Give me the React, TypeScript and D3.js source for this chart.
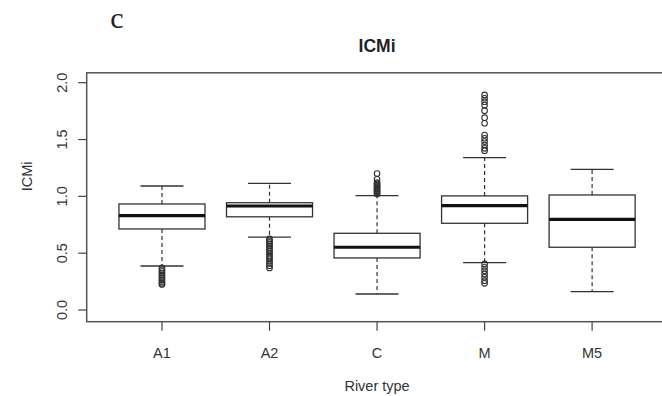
import React from "react";
import * as d3 from "d3";

const categories = ["A1", "A2", "C", "M", "M5"];
const lowerWhisker = [0.387, 0.642, 0.141, 0.416, 0.161];
const q1 = [0.713, 0.82, 0.458, 0.763, 0.552];
const median = [0.83, 0.915, 0.552, 0.918, 0.798];
const q3 = [0.933, 0.944, 0.675, 1.004, 1.012];
const upperWhisker = [1.091, 1.115, 1.006, 1.34, 1.238];
const outliersA1 = [0.37, 0.355, 0.34, 0.325, 0.31, 0.295, 0.28, 0.265, 0.25, 0.235, 0.225];
const outliersA2 = [0.625, 0.61, 0.595, 0.58, 0.565, 0.55, 0.535, 0.52, 0.5, 0.48, 0.465, 0.45, 0.43, 0.41, 0.39, 0.37];
const outliersC = [1.02, 1.03, 1.04, 1.05, 1.06, 1.07, 1.08, 1.09, 1.1, 1.11, 1.12, 1.15, 1.2];
const outliersM = [1.892, 1.863, 1.833, 1.804, 1.754, 1.692, 1.643, 1.54, 1.511, 1.482, 1.452, 1.423, 1.402,
  0.405, 0.376, 0.346, 0.317, 0.288, 0.258, 0.235];
const outliersM5: number[] = [];
const outliers = [outliersA1, outliersA2, outliersC, outliersM, outliersM5];
const yTicks = [0, 0.5, 1, 1.5, 2];

export default function App() {
  React.useEffect(() => {
    document.body.style.margin = "0";
  }, []);
  const W = 662, H = 396;
  const x = d3.scaleLinear().domain([0.3, 5.7]).range([86.7, 667.4]);
  const y = d3.scaleLinear().domain([0, 2]).range([310, 82.7]);
  const unit = x(1) - x(0);
  const boxW = 0.8 * unit;
  const capW = 0.4 * unit;
  const frameTop = y(2.087);
  const frameBottom = y(-0.103);
  const left = x(0.3);
  const right = x(5.7);
  const font = "'Liberation Sans', Arial, sans-serif";
  const stroke = "#333";
  return (
    <svg width={W} height={H} style={{ display: "block", position: "absolute", left: 0, top: 0 }}>
      <rect width={W} height={H} fill="#fff" />
      <text x={117} y={28} fontFamily="'Liberation Serif', 'Times New Roman', serif" fontSize={30} textAnchor="middle" fill="#222">c</text>
      <text x={(left + right) / 2} y={52} fontFamily={font} fontSize={17.5} fontWeight="bold" textAnchor="middle" fill="#222">ICMi</text>
      <rect x={left} y={frameTop} width={right - left} height={frameBottom - frameTop} fill="none" stroke="#555" strokeWidth={1.5} />
      {yTicks.map((t) => (
        <g key={t}>
          <line x1={left - 8.5} x2={left} y1={y(t)} y2={y(t)} stroke="#444" strokeWidth={1.2} />
          <text transform={`translate(${67},${y(t)}) rotate(-90)`} fontFamily={font} fontSize={14.5} textAnchor="middle" fill="#333">
            {t.toFixed(1)}
          </text>
        </g>
      ))}
      <text transform={`translate(${32},${y(1) - 20}) rotate(-90)`} fontFamily={font} fontSize={14.5} textAnchor="middle" fill="#333">ICMi</text>
      {categories.map((c, i) => (
        <g key={c}>
          <line x1={x(i + 1)} x2={x(i + 1)} y1={frameBottom} y2={frameBottom + 9} stroke="#444" strokeWidth={1.2} />
          <text x={x(i + 1)} y={frameBottom + 36} fontFamily={font} fontSize={14.5} textAnchor="middle" fill="#333">{c}</text>
        </g>
      ))}
      <text x={x(3)} y={391} fontFamily={font} fontSize={14.5} textAnchor="middle" fill="#333">River type</text>
      {categories.map((c, i) => {
        const cx = x(i + 1);
        return (
          <g key={c}>
            <line x1={cx} x2={cx} y1={y(q3[i])} y2={y(upperWhisker[i])} stroke={stroke} strokeWidth={1.2} strokeDasharray="4,3" />
            <line x1={cx} x2={cx} y1={y(q1[i])} y2={y(lowerWhisker[i])} stroke={stroke} strokeWidth={1.2} strokeDasharray="4,3" />
            <line x1={cx - capW / 2} x2={cx + capW / 2} y1={y(upperWhisker[i])} y2={y(upperWhisker[i])} stroke={stroke} strokeWidth={1.3} />
            <line x1={cx - capW / 2} x2={cx + capW / 2} y1={y(lowerWhisker[i])} y2={y(lowerWhisker[i])} stroke={stroke} strokeWidth={1.3} />
            <rect x={cx - boxW / 2} y={y(q3[i])} width={boxW} height={y(q1[i]) - y(q3[i])} fill="#fff" stroke={stroke} strokeWidth={1.3} />
            <line x1={cx - boxW / 2} x2={cx + boxW / 2} y1={y(median[i])} y2={y(median[i])} stroke="#111" strokeWidth={3.2} />
            {outliers[i].map((v, k) => (
              <circle key={k} cx={cx} cy={y(v)} r={2.8} fill="none" stroke={stroke} strokeWidth={1.1} />
            ))}
          </g>
        );
      })}
    </svg>
  );
}
